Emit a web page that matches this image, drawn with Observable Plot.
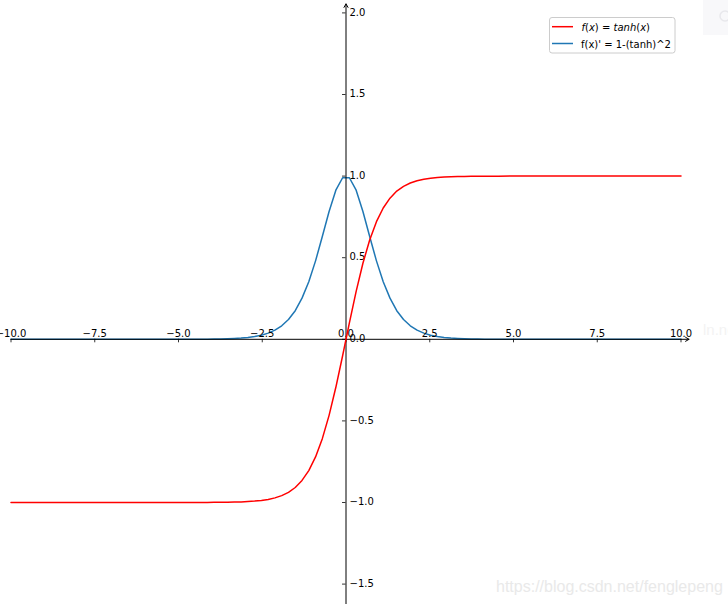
<!DOCTYPE html>
<html>
<head>
<meta charset="utf-8">
<script src="https://cdn.jsdelivr.net/npm/d3@7"></script>
<script src="https://cdn.jsdelivr.net/npm/@observablehq/plot@0.6"></script>
<style>
  html, body { margin: 0; padding: 0; background: #fff; }
  #wrap { position: relative; width: 728px; height: 604px; overflow: hidden; }
  #overlay { position: absolute; left: 0; top: 0; pointer-events: none; }
</style>
</head>
<body>
<div id="wrap"></div>
<script>
// ---- data ----
const xs = [-10, -8, -6, -5, -4.545, -4.141, -3.939, -3.737, -3.535, -3.333, -3.131, -2.929, -2.727, -2.525, -2.323, -2.121, -1.919, -1.717, -1.515, -1.313, -1.111, -0.909, -0.707, -0.505, -0.303, -0.101,
            0.101, 0.303, 0.505, 0.707, 0.909, 1.111, 1.313, 1.515, 1.717, 1.919, 2.121, 2.323, 2.525, 2.727, 2.929, 3.131, 3.333, 3.535, 3.737, 3.939, 4.141, 4.545, 5, 6, 8, 10];
const tanhValues = [-1, -1, -1, -0.9999, -0.9998, -0.9995, -0.9992, -0.9989, -0.9983, -0.9975, -0.9962, -0.9943, -0.9915, -0.9873, -0.9810, -0.9716, -0.9578, -0.9375, -0.9081, -0.8648, -0.8044, -0.7207, -0.6087, -0.4660, -0.2941, -0.1007,
                    0.1007, 0.2941, 0.4660, 0.6087, 0.7207, 0.8044, 0.8648, 0.9081, 0.9375, 0.9578, 0.9716, 0.9810, 0.9873, 0.9915, 0.9943, 0.9962, 0.9975, 0.9983, 0.9989, 0.9992, 0.9995, 0.9998, 0.9999, 1, 1, 1];
const derivValues = [0, 0, 0.00002, 0.0002, 0.0004, 0.0010, 0.0015, 0.0023, 0.0034, 0.0051, 0.0076, 0.0114, 0.0170, 0.0253, 0.0377, 0.0560, 0.0826, 0.1211, 0.1754, 0.2521, 0.3530, 0.4806, 0.6295, 0.7829, 0.9135, 0.9899,
                     0.9899, 0.9135, 0.7829, 0.6295, 0.4806, 0.3530, 0.2521, 0.1754, 0.1211, 0.0826, 0.0560, 0.0377, 0.0253, 0.0170, 0.0114, 0.0076, 0.0051, 0.0034, 0.0023, 0.0015, 0.0010, 0.0004, 0.0002, 0.00002, 0, 0];
const xTicks = [-10, -7.5, -5, -2.5, 0, 2.5, 5, 7.5, 10];
const xTickLabels = ["\u221210.0", "\u22127.5", "\u22125.0", "\u22122.5", "0.0", "2.5", "5.0", "7.5", "10.0"];
const yTicks = [-1.5, -1, -0.5, 0, 0.5, 1, 1.5, 2];
const yTickLabels = ["\u22121.5", "\u22121.0", "\u22120.5", "0.0", "0.5", "1.0", "1.5", "2.0"];
const seriesNames = ["f(x) = tanh(x)", "f(x)' = 1-(tanh)^2"];
const seriesColors = ["#ff0000", "#1f77b4"];

const tanhData = xs.map((x, i) => ({x, y: tanhValues[i]}));
const derivData = xs.map((x, i) => ({x, y: derivValues[i]}));

const chart = Plot.plot({
  width: 728,
  height: 604,
  marginTop: 0,
  marginBottom: 0,
  marginLeft: 10.5,
  marginRight: 47.5,
  x: {domain: [-10, 10], axis: null},
  y: {domain: [-1.625, 2.076], axis: null},
  style: {fontFamily: "DejaVu Sans", fontSize: "10px", background: "#fff", color: "#000"},
  marks: [
    Plot.line(derivData, {x: "x", y: "y", stroke: seriesColors[1], strokeWidth: 1.5}),
    Plot.arrow([{x1: -10, y1: 0, x2: 10.24, y2: 0}], {x1: "x1", y1: "y1", x2: "x2", y2: "y2", stroke: "#000", strokeWidth: 1, headLength: 6}),
    Plot.arrow([{x1: 0, y1: -1.625, x2: 0, y2: 2.055}], {x1: "x1", y1: "y1", x2: "x2", y2: "y2", stroke: "#000", strokeWidth: 1, headLength: 6}),
    Plot.ruleX(xTicks, {x: d => d, y1: 0, y2: -0.0215, stroke: "#000", strokeWidth: 0.8}),
    Plot.ruleY(yTicks, {y: d => d, x1: -0.104, x2: 0, stroke: "#000", strokeWidth: 0.8}),
    Plot.text(xTicks, {x: d => d, y: 0, text: (d, i) => xTickLabels[i], dy: -6, lineAnchor: "middle", textAnchor: "middle", fill: "#000"}),
    Plot.text(yTicks, {x: 0, y: d => d, text: (d, i) => yTickLabels[i], dx: 3.5, dy: -0.5, lineAnchor: "middle", textAnchor: "start", fill: "#000"}),
    Plot.line(tanhData, {x: "x", y: "y", stroke: seriesColors[0], strokeWidth: 1.5})
  ]
});
document.getElementById("wrap").appendChild(chart);

// overlay: legend + faint page artefacts
const ov = d3.select("#wrap").append("svg")
  .attr("id", "overlay").attr("width", 728).attr("height", 604)
  .style("font-family", "DejaVu Sans").style("font-size", "10px");

ov.append("rect").attr("x", 703).attr("y", 0).attr("width", 25).attr("height", 35).attr("fill", "#f8f8fa");
ov.append("circle").attr("cx", 725).attr("cy", 16).attr("r", 5).attr("fill", "none").attr("stroke", "#e8e8ec").attr("stroke-width", 1.5);
ov.append("text").attr("x", 703).attr("y", 335).attr("fill", "#f3f3f3").style("font-family", "Liberation Sans").style("font-size", "15px").text("ln.ne");

const lg = ov.append("g");
lg.append("rect").attr("x", 549.5).attr("y", 17.5).attr("width", 125.5).attr("height", 35.5)
  .attr("rx", 2.5).attr("fill", "#fff").attr("fill-opacity", 0.8).attr("stroke", "#cccccc").attr("stroke-width", 1);
lg.append("line").attr("x1", 552).attr("x2", 573).attr("y1", 26.7).attr("y2", 26.7).attr("stroke", seriesColors[0]).attr("stroke-width", 1.5);
lg.append("line").attr("x1", 552).attr("x2", 573).attr("y1", 43.5).attr("y2", 43.5).attr("stroke", seriesColors[1]).attr("stroke-width", 1.5);
const t1 = lg.append("text").attr("x", 581.5).attr("y", 30.5).attr("fill", "#000");
t1.append("tspan").attr("font-style", "italic").text("f");
t1.append("tspan").text("(");
t1.append("tspan").attr("font-style", "italic").text("x");
t1.append("tspan").text(") = ");
t1.append("tspan").attr("font-style", "italic").text("tanh");
t1.append("tspan").text("(");
t1.append("tspan").attr("font-style", "italic").text("x");
t1.append("tspan").text(")");
lg.append("text").attr("x", 581).attr("y", 47.5).attr("fill", "#000").text(seriesNames[1]);

ov.append("text").attr("x", 496).attr("y", 591.5).attr("fill", "#e9e9e9")
  .style("font-family", "Liberation Sans").style("font-size", "16px").text("https://blog.csdn.net/fenglepeng");
</script>
</body>
</html>
